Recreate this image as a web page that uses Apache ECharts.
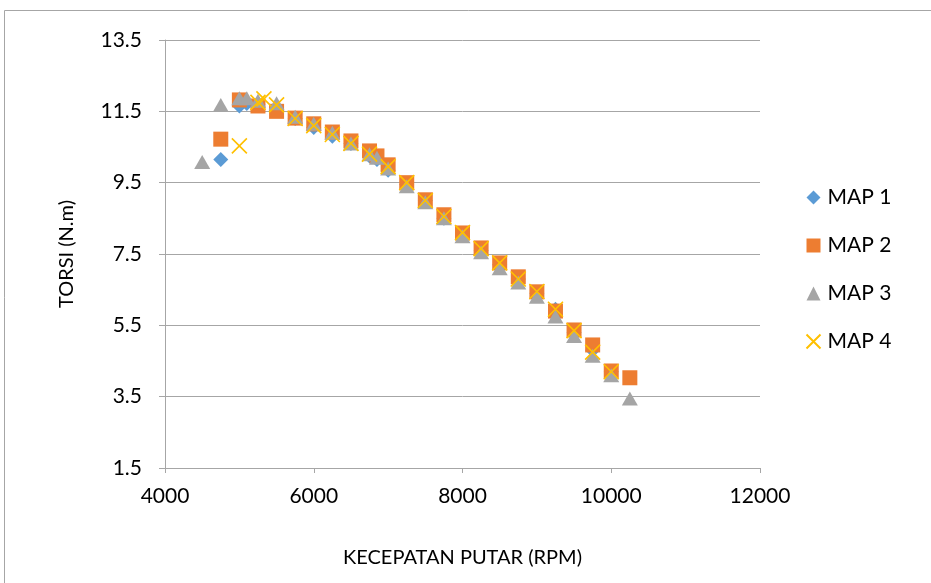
<!DOCTYPE html>
<html>
<head>
<meta charset="utf-8">
<script src="https://cdn.jsdelivr.net/npm/echarts@6/dist/echarts.min.js"></script>
<style>
  html, body { margin: 0; padding: 0; background: #fff; }
  #chart { width: 931px; height: 583px; }
</style>
</head>
<body>
<div id="chart"></div>
<script>
// rpm, torque pairs
var map1 = [
    [4750, 10.15], [5000, 11.65], [5100, 11.72], [5250, 11.7], [5500, 11.6], [5750, 11.3],
    [6000, 11.05], [6250, 10.8], [6500, 10.6], [6750, 10.25], [6850, 10.15], [7000, 9.85],
    [7250, 9.45], [7500, 9.0], [7750, 8.5], [8000, 8.05], [8250, 7.6], [8500, 7.2],
    [8750, 6.8], [9000, 6.4], [9250, 5.95], [9500, 5.3], [9750, 4.8], [10000, 4.2]
];
var map2 = [
    [4750, 10.72], [5000, 11.82], [5250, 11.65], [5500, 11.5], [5750, 11.31], [6000, 11.15],
    [6250, 10.92], [6500, 10.67], [6750, 10.39], [6850, 10.25], [7000, 10.0], [7250, 9.5],
    [7500, 9.02], [7750, 8.6], [8000, 8.09], [8250, 7.67], [8500, 7.25], [8750, 6.86],
    [9000, 6.44], [9250, 5.9], [9500, 5.37], [9750, 4.95], [10000, 4.22], [10250, 4.03]
];
var map3 = [
    [4500, 10.08], [4750, 11.68], [5000, 11.87], [5100, 11.87], [5250, 11.8], [5500, 11.73],
    [5750, 11.35], [6000, 11.15], [6250, 10.9], [6500, 10.6], [6750, 10.3], [6850, 10.2],
    [7000, 9.9], [7250, 9.4], [7500, 8.95], [7750, 8.5], [8000, 8.0], [8250, 7.55],
    [8500, 7.1], [8750, 6.7], [9000, 6.3], [9250, 5.75], [9500, 5.2], [9750, 4.65],
    [10000, 4.1], [10250, 3.45]
];
var map4 = [
    [5000, 10.53], [5250, 11.75], [5330, 11.85], [5500, 11.68], [5750, 11.3], [6000, 11.1],
    [6250, 10.85], [6500, 10.6], [6750, 10.3], [7000, 9.95], [7250, 9.5], [7500, 9.0],
    [7750, 8.55], [8000, 8.1], [8250, 7.65], [8500, 7.25], [8750, 6.8], [9000, 6.45],
    [9250, 5.95], [9500, 5.35], [9750, 4.75], [10000, 4.2]
];
var seriesNames = ['MAP 1', 'MAP 2', 'MAP 3', 'MAP 4'];

var chart = echarts.init(document.getElementById('chart'));
var font = 'Lato, "Liberation Sans", sans-serif';
var crossPath = 'path://M0,0L10,10M10,0L0,10';

var option = {
    animation: false,
    backgroundColor: '#fff',
    graphic: [{
        type: 'rect',
        shape: { x: 4.5, y: 10.5, width: 940, height: 600 },
        style: { fill: 'none', stroke: '#a6a6a6', lineWidth: 1 },
        silent: true
    }],
    grid: { left: 165, right: 171, top: 40, bottom: 115 },
    legend: {
        orient: 'vertical',
        left: 799,
        top: 182,
        itemGap: 27,
        itemWidth: 14,
        itemHeight: 14,
        textStyle: { fontFamily: font, fontSize: 21, color: '#000', padding: [0, 0, 0, 2] },
        data: seriesNames
    },
    xAxis: {
        type: 'value',
        min: 4000, max: 12000, interval: 2000,
        name: 'KECEPATAN PUTAR (RPM)',
        nameLocation: 'middle',
        nameGap: 80,
        nameTextStyle: { fontFamily: font, fontSize: 20, color: '#000' },
        axisLine: { show: true, lineStyle: { color: '#a6a6a6' } },
        axisTick: { show: true, length: 5, lineStyle: { color: '#a6a6a6' } },
        axisLabel: {
            fontFamily: font, fontSize: 21, color: '#000', margin: 18,
            formatter: function (v) { return String(v); }
        },
        splitLine: { show: false }
    },
    yAxis: {
        type: 'value',
        min: 1.5, max: 13.5, interval: 2,
        name: 'TORSI (N.m)',
        nameLocation: 'middle',
        nameGap: 88,
        nameTextStyle: { fontFamily: font, fontSize: 20, color: '#000' },
        axisLine: { show: true, lineStyle: { color: '#a6a6a6' } },
        axisTick: { show: true, length: 6, lineStyle: { color: '#a6a6a6' } },
        axisLabel: {
            fontFamily: font, fontSize: 21, color: '#000', margin: 23,
            formatter: function (v) { return v.toFixed(1); }
        },
        splitLine: { show: true, lineStyle: { color: '#a6a6a6' } }
    },
    series: [
        {
            name: 'MAP 1', type: 'scatter', data: map1,
            symbol: 'diamond', symbolSize: 15,
            itemStyle: { color: '#5B9BD5', opacity: 1 }
        },
        {
            name: 'MAP 2', type: 'scatter', data: map2,
            symbol: 'rect', symbolSize: 15,
            itemStyle: { color: '#ED7D31', opacity: 1 }
        },
        {
            name: 'MAP 3', type: 'scatter', data: map3,
            symbol: 'triangle', symbolSize: [16, 14],
            itemStyle: { color: '#A5A5A5', opacity: 1 }
        },
        {
            name: 'MAP 4', type: 'scatter', data: map4,
            symbol: crossPath, symbolSize: 15,
            itemStyle: { color: 'none', borderColor: '#FFC000', borderWidth: 1.6, opacity: 1 }
        }
    ]
};

chart.setOption(option);
</script>
</body>
</html>
